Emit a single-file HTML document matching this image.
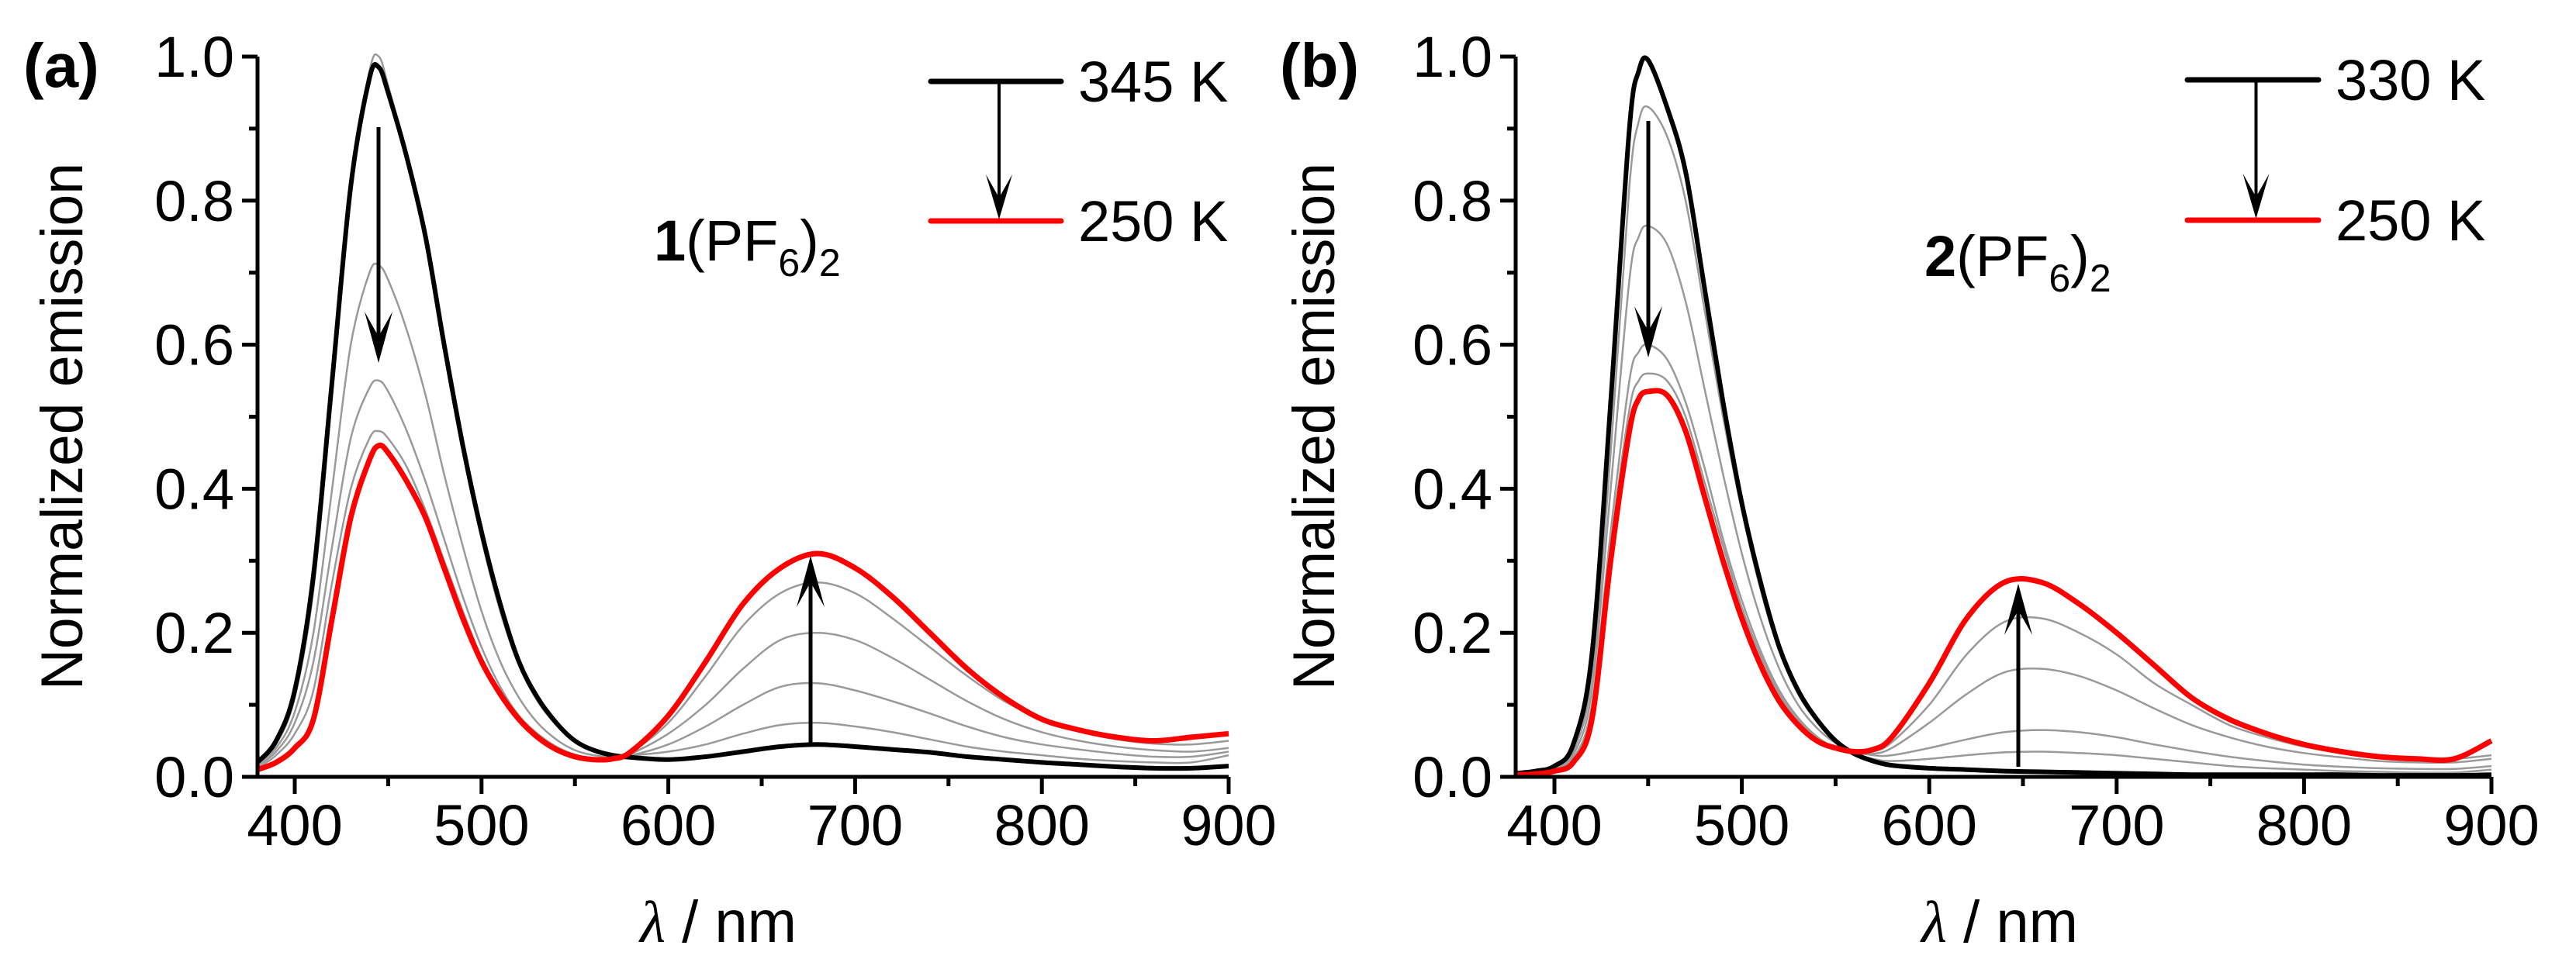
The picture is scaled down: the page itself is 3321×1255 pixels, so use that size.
<!DOCTYPE html>
<html><head><meta charset="utf-8"><style>
html,body{margin:0;padding:0;background:#fff;}
svg{display:block;font-family:"Liberation Sans",Arial,sans-serif;}
</style></head><body>
<svg id="fig" width="3321" height="1255" viewBox="0 0 3321 1255" xmlns="http://www.w3.org/2000/svg"></svg>
<script>
const wavelengths=[380,390,400,410,420,430,440,445,450,460,470,480,490,500,510,520,530,540,550,560,570,580,600,620,640,660,680,700,720,740,760,780,800,820,840,860,880,900];
const xTicks=[400,500,600,700,800,900];
const yTicks=[0.0,0.2,0.4,0.6,0.8,1.0];
const yTickLabels=["0.0","0.2","0.4","0.6","0.8","1.0"];
// Panel a
const a_hot=[0.02,0.05,0.12,0.28,0.55,0.82,0.97,0.985,0.95,0.86,0.75,0.60,0.46,0.34,0.24,0.16,0.11,0.075,0.05,0.037,0.03,0.027,0.024,0.028,0.035,0.042,0.045,0.042,0.038,0.034,0.028,0.024,0.02,0.017,0.014,0.012,0.012,0.015];
const a_g1=[0.02,0.045,0.11,0.26,0.53,0.82,0.98,1.0,0.96,0.86,0.74,0.59,0.45,0.33,0.23,0.155,0.105,0.072,0.05,0.037,0.03,0.03,0.035,0.045,0.06,0.072,0.075,0.07,0.062,0.052,0.042,0.035,0.03,0.025,0.022,0.02,0.02,0.03];
const a_g2=[0.018,0.04,0.09,0.2,0.4,0.6,0.7,0.71,0.69,0.62,0.53,0.42,0.32,0.23,0.16,0.11,0.075,0.052,0.037,0.03,0.028,0.03,0.045,0.07,0.1,0.125,0.13,0.12,0.105,0.088,0.07,0.055,0.045,0.038,0.032,0.028,0.028,0.035];
const a_g3=[0.015,0.035,0.075,0.16,0.32,0.47,0.54,0.55,0.535,0.48,0.41,0.33,0.25,0.18,0.125,0.085,0.06,0.042,0.031,0.026,0.026,0.032,0.06,0.1,0.15,0.19,0.2,0.19,0.165,0.135,0.105,0.08,0.062,0.05,0.042,0.037,0.035,0.04];
const a_g4=[0.012,0.03,0.06,0.12,0.27,0.4,0.47,0.48,0.47,0.43,0.37,0.3,0.23,0.165,0.118,0.082,0.057,0.04,0.029,0.025,0.025,0.034,0.075,0.14,0.21,0.255,0.27,0.255,0.22,0.18,0.14,0.105,0.08,0.063,0.052,0.046,0.045,0.05];
const a_cold=[0.01,0.02,0.04,0.08,0.22,0.36,0.44,0.46,0.45,0.41,0.36,0.29,0.22,0.16,0.115,0.08,0.055,0.038,0.028,0.024,0.025,0.035,0.085,0.16,0.24,0.29,0.31,0.29,0.25,0.2,0.15,0.11,0.08,0.065,0.055,0.05,0.055,0.06];
// Panel b
const b_hot=[0.005,0.008,0.015,0.045,0.17,0.52,0.9,0.98,0.995,0.93,0.84,0.68,0.52,0.38,0.27,0.18,0.12,0.08,0.05,0.032,0.022,0.016,0.012,0.01,0.008,0.007,0.006,0.005,0.004,0.003,0.003,0.003,0.003,0.003,0.002,0.002,0.002,0.003];
const b_g1=[0.004,0.006,0.012,0.035,0.14,0.45,0.82,0.91,0.93,0.89,0.8,0.65,0.5,0.37,0.26,0.175,0.115,0.077,0.05,0.033,0.025,0.022,0.025,0.03,0.034,0.035,0.033,0.03,0.025,0.02,0.015,0.012,0.01,0.008,0.007,0.006,0.006,0.01];
const b_g2=[0.004,0.005,0.01,0.03,0.12,0.4,0.69,0.75,0.765,0.74,0.66,0.54,0.42,0.31,0.22,0.15,0.1,0.068,0.047,0.036,0.03,0.03,0.04,0.052,0.062,0.065,0.062,0.055,0.045,0.036,0.028,0.022,0.017,0.014,0.012,0.011,0.011,0.015];
const b_g3=[0.003,0.005,0.009,0.025,0.1,0.34,0.55,0.59,0.6,0.58,0.52,0.43,0.33,0.245,0.175,0.12,0.082,0.056,0.04,0.033,0.032,0.04,0.075,0.115,0.145,0.15,0.14,0.12,0.095,0.072,0.055,0.042,0.033,0.027,0.022,0.02,0.02,0.025];
const b_g4=[0.003,0.004,0.008,0.022,0.09,0.32,0.51,0.55,0.56,0.55,0.5,0.41,0.32,0.235,0.168,0.115,0.078,0.054,0.04,0.034,0.035,0.048,0.1,0.17,0.215,0.22,0.2,0.17,0.13,0.1,0.072,0.055,0.042,0.034,0.028,0.025,0.025,0.03];
const b_cold=[0.003,0.004,0.008,0.02,0.08,0.3,0.48,0.525,0.535,0.53,0.48,0.39,0.3,0.22,0.155,0.105,0.072,0.05,0.04,0.035,0.038,0.055,0.13,0.22,0.27,0.27,0.24,0.2,0.155,0.11,0.08,0.06,0.045,0.035,0.028,0.025,0.025,0.05];

const NS="http://www.w3.org/2000/svg";
const svg=document.getElementById('fig');
function mk(tag,attrs,parent,text){const e=document.createElementNS(NS,tag);for(const k in attrs)e.setAttribute(k,attrs[k]);if(text!==undefined)e.textContent=text;(parent||svg).appendChild(e);return e;}
function smoothPath(pts){
  let d='M'+pts[0][0].toFixed(1)+','+pts[0][1].toFixed(1);
  for(let i=0;i<pts.length-1;i++){
    const p0=pts[Math.max(0,i-1)],p1=pts[i],p2=pts[i+1],p3=pts[Math.min(pts.length-1,i+2)];
    const c1x=p1[0]+(p2[0]-p0[0])/6,c1y=p1[1]+(p2[1]-p0[1])/6;
    const c2x=p2[0]-(p3[0]-p1[0])/6,c2y=p2[1]-(p3[1]-p1[1])/6;
    d+=` C${c1x.toFixed(1)},${c1y.toFixed(1)} ${c2x.toFixed(1)},${c2y.toFixed(1)} ${p2[0].toFixed(1)},${p2[1].toFixed(1)}`;
  }
  return d;
}
function panel(cfg){
  const g=mk('g',{});
  
  
  const X0=cfg.left, Y0=1002, Y1=73;
  const px=(cfg.x900-cfg.x400)/500;
  const xs=w=>cfg.x400+(w-400)*px;
  const ysc=v=>Y0+(Y1-Y0)*v;
  const xEnd=xs(900);
  const series=[[cfg.g1,'#9a9a9a',2.5,'gray-1'],[cfg.g2,'#9a9a9a',2.5,'gray-2'],[cfg.g3,'#9a9a9a',2.5,'gray-3'],[cfg.g4,'#9a9a9a',2.5,'gray-4'],[cfg.hot,'#000',6,'hot'],[cfg.cold,'#ff0000',7,'cold']];
  series.forEach(s=>{
    const pts=wavelengths.map((w,i)=>[xs(w),ysc(s[0][i])]);
    const p=mk('path',{d:smoothPath(pts),fill:'none',stroke:s[1],'stroke-width':s[2],'stroke-linejoin':'round'},g);
    
    
  });
  const ax=mk('path',{d:`M${X0-20},${Y0} L${xEnd},${Y0} M${X0},${Y0} L${X0},${Y1}`,stroke:'#000','stroke-width':5,fill:'none'},g);
  
  
  xTicks.forEach(t=>{
    const x=xs(t);
    mk('line',{x1:x,y1:Y0,x2:x,y2:Y0+22,stroke:'#000','stroke-width':5},g);
    const tl=mk('text',{x:x,y:1090,'font-size':74,'text-anchor':'middle'},g,String(t));
    
    
    if(t<900) mk('line',{x1:xs(t+50),y1:Y0,x2:xs(t+50),y2:Y0+12,stroke:'#000','stroke-width':5},g);
  });
  yTicks.forEach((t,i)=>{
    const y=ysc(t);
    mk('line',{x1:X0-20,y1:y,x2:X0,y2:y,stroke:'#000','stroke-width':5},g);
    const tl=mk('text',{x:X0-30,y:y+26,'font-size':74,'text-anchor':'end'},g,yTickLabels[i]);
    
    
    if(t<1) mk('line',{x1:X0-11,y1:ysc(t+0.1),x2:X0,y2:ysc(t+0.1),stroke:'#000','stroke-width':5},g);
  });
  const yl=mk('text',{x:0,y:0,'font-size':76,'text-anchor':'middle',textLength:680,lengthAdjust:'spacingAndGlyphs',transform:`translate(${cfg.ylabX},550) rotate(-90)`},g,'Normalized emission');
  
  
  const xl=mk('text',{x:cfg.xlabX,y:1215,'font-size':76,'text-anchor':'middle'},g);
  
  
  mk('tspan',{'font-style':'italic','font-family':'"Liberation Serif",serif'},xl,'λ');
  mk('tspan',{},xl,' / nm');
  const pl=mk('text',{x:cfg.plX,y:112,'font-size':80,'font-weight':'bold'},g,cfg.label);
  
  
  const lg=mk('g',{},g);
  
  
  mk('line',{x1:cfg.legX1,y1:cfg.legY1,x2:cfg.legX2,y2:cfg.legY1,stroke:'#000','stroke-width':7,'stroke-linecap':'round'},lg);
  mk('line',{x1:cfg.legX1,y1:cfg.legY2,x2:cfg.legX2,y2:cfg.legY2,stroke:'#ff0000','stroke-width':7,'stroke-linecap':'round'},lg);
  mk('text',{x:cfg.legX2+22,y:cfg.legY1+26,'font-size':74},lg,cfg.hotLabel);
  mk('text',{x:cfg.legX2+22,y:cfg.legY2+26,'font-size':74},lg,'250 K');
  const am=(cfg.legX1+cfg.legX2)/2+4;
  mk('line',{x1:am,y1:cfg.legY1,x2:am,y2:cfg.legY2-20,stroke:'#000','stroke-width':4},lg);
  mk('path',{d:`M${am},${cfg.legY2-2} L${am-17},${cfg.legY2-60} L${am},${cfg.legY2-30} L${am+17},${cfg.legY2-60} Z`,fill:'#000'},lg);
  const cl=mk('text',{x:cfg.cmpX,y:cfg.cmpY,'font-size':74},g);
  
  
  mk('tspan',{'font-weight':'bold'},cl,cfg.num);
  mk('tspan',{},cl,'(PF');
  mk('tspan',{'font-size':50,dy:20},cl,'6');
  mk('tspan',{dy:-20},cl,')');
  mk('tspan',{'font-size':50,dy:20},cl,'2');
  const dA=mk('g',{},g);
  
  
  mk('line',{x1:cfg.dArX,y1:cfg.dArY1,x2:cfg.dArX,y2:cfg.dArY2-20,stroke:'#000','stroke-width':5},dA);
  mk('path',{d:`M${cfg.dArX},${cfg.dArY2} L${cfg.dArX-18},${cfg.dArY2-66} L${cfg.dArX},${cfg.dArY2-34} L${cfg.dArX+18},${cfg.dArY2-66} Z`,fill:'#000'},dA);
  const uA=mk('g',{},g);
  
  
  mk('line',{x1:cfg.uArX,y1:cfg.uArY1,x2:cfg.uArX,y2:cfg.uArY2+20,stroke:'#000','stroke-width':5},uA);
  mk('path',{d:`M${cfg.uArX},${cfg.uArY2} L${cfg.uArX-18},${cfg.uArY2+66} L${cfg.uArX},${cfg.uArY2+34} L${cfg.uArX+18},${cfg.uArY2+66} Z`,fill:'#000'},uA);
}
panel({id:'panel-a',left:332,x400:380,x900:1584,hot:a_hot,g1:a_g1,g2:a_g2,g3:a_g3,g4:a_g4,cold:a_cold,
  ylabX:106,xlabX:926,plX:30,label:'(a)',legX1:1200,legX2:1368,legY1:105,legY2:285,hotLabel:'345 K',
  cmpX:843,cmpY:336,num:'1',dArX:488,dArY1:164,dArY2:468,uArX:1045,uArY1:958,uArY2:717});
panel({id:'panel-b',left:1954,x400:2004,x900:3212,hot:b_hot,g1:b_g1,g2:b_g2,g3:b_g3,g4:b_g4,cold:b_cold,
  ylabX:1720,xlabX:2578,plX:1650,label:'(b)',legX1:2820,legX2:2989,legY1:103,legY2:284,hotLabel:'330 K',
  cmpX:2481,cmpY:356,num:'2',dArX:2125,dArY1:156,dArY2:461,uArX:2602,uArY1:989,uArY2:753});
</script>
</body></html>
